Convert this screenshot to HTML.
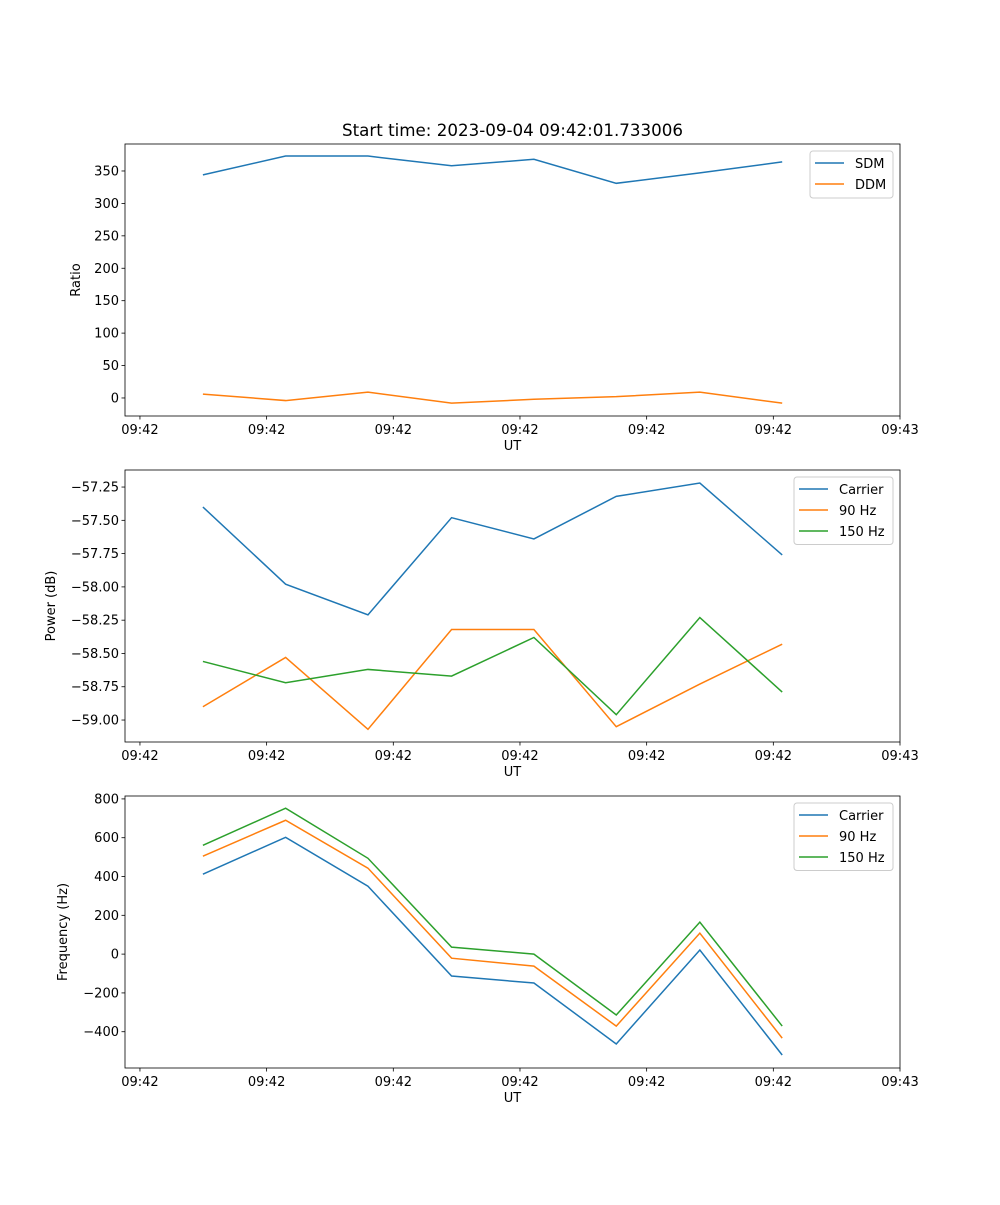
<!DOCTYPE html>
<html><head><meta charset="utf-8"><style>
html,body{margin:0;padding:0;background:#fff}
svg text{font-family:"DejaVu Sans","Liberation Sans",sans-serif;fill:#000}
</style></head><body>
<svg id="fig" width="1000" height="1200" viewBox="0 0 1000 1200" xmlns="http://www.w3.org/2000/svg">
<rect width="1000" height="1200" fill="#fff"/>
<text x="512.5" y="136" font-size="16.7" text-anchor="middle">Start time: 2023-09-04 09:42:01.733006</text>
</svg>
<script>
// times in seconds after 09:42:00
const times = [4.97, 11.5, 18.0, 24.6, 31.1, 37.6, 44.2, 50.7];
const xTickVals = [0, 10, 20, 30, 40, 50, 60];
const xTickLabels = ["09:42","09:42","09:42","09:42","09:42","09:42","09:43"];
const sdm = [344, 373, 373, 358, 368, 331, 347, 364];
const ddm = [6, -4, 9, -8, -2, 2, 9, -8];
const powCarrier = [-57.40, -57.98, -58.21, -57.48, -57.64, -57.32, -57.22, -57.76];
const pow90 = [-58.90, -58.53, -59.07, -58.32, -58.32, -59.05, -58.73, -58.43];
const pow150 = [-58.56, -58.72, -58.62, -58.67, -58.38, -58.96, -58.23, -58.79];
const freqCarrier = [412, 602, 350, -113, -149, -463, 21, -520];
const freq90 = [505, 690, 443, -21, -62, -371, 108, -433];
const freq150 = [561, 752, 494, 36, 0, -314, 165, -371];
const ratioTicks = [0, 50, 100, 150, 200, 250, 300, 350];
const powerTicks = [-59.0, -58.75, -58.5, -58.25, -58.0, -57.75, -57.5, -57.25];
const freqTicks = [-400, -200, 0, 200, 400, 600, 800];

const NS = "http://www.w3.org/2000/svg";
const svg = document.getElementById('fig');
const C = {blue:"#1f77b4", orange:"#ff7f0e", green:"#2ca02c"};
function mk(tag, attrs, parent){const e=document.createElementNS(NS,tag);for(const k in attrs)e.setAttribute(k,attrs[k]);(parent||svg).appendChild(e);return e;}

function panel(cfg){
  const L=125,R=900,T=cfg.top,B=cfg.top+272;
  const g=mk('g',{});
  
  
  const xs=v=>L+(v-(-1.18))/(60.0-(-1.18))*(R-L);
  const ys=v=>B-(v-cfg.ymin)/(cfg.ymax-cfg.ymin)*(B-T);
  cfg.series.forEach(s=>{
    const p=mk('polyline',{points:times.map((t,i)=>xs(t).toFixed(2)+","+ys(s.data[i]).toFixed(2)).join(" "),fill:"none",stroke:s.color,"stroke-width":1.5},g);
    
    
  });
  const f=mk('rect',{x:L,y:T,width:R-L,height:B-T,fill:"none",stroke:"#000","stroke-width":0.8},g);
  
  
  xTickVals.forEach((v,i)=>{
    const x=xs(v);
    mk('line',{x1:x,x2:x,y1:B,y2:B+3.5,stroke:"#000","stroke-width":0.8},g);
    const t=mk('text',{x:x,y:B+18,"font-size":13,"text-anchor":"middle"},g);
    t.textContent=xTickLabels[i];
    
    
  });
  const xl=mk('text',{x:(L+R)/2,y:B+34,"font-size":13,"text-anchor":"middle"},g);
  xl.textContent="UT";
  
  
  cfg.yticks.forEach(v=>{
    const y=ys(v);
    mk('line',{x1:L-3.5,x2:L,y1:y,y2:y,stroke:"#000","stroke-width":0.8},g);
    const t=mk('text',{x:L-6,y:y+4.5,"font-size":13,"text-anchor":"end"},g);
    t.textContent=cfg.fmt(v);
    
    
  });
  const yl=mk('text',{x:0,y:0,"font-size":13,"text-anchor":"middle",transform:`translate(${cfg.ylx},${(T+B)/2}) rotate(-90)`},g);
  yl.textContent=cfg.ylabel;
  
  
  const lx=cfg.legX, ly=T+7, lh=6+cfg.series.length*20.5;
  const lg=mk('g',{},g);
  
  
  mk('rect',{x:lx,y:ly,width:R-7-lx,height:lh,rx:3,fill:"#fff","fill-opacity":0.8,stroke:"#ccc","stroke-width":1},lg);
  cfg.series.forEach((s,i)=>{
    const yy=ly+12+i*21;
    const e=mk('g',{},lg);
    
    
    mk('line',{x1:lx+5,x2:lx+34,y1:yy,y2:yy,stroke:s.color,"stroke-width":1.5},e);
    const t=mk('text',{x:lx+45,y:yy+5,"font-size":13},e);
    t.textContent=s.label;
  });
}

panel({name:'ratio-panel',top:144,ymin:-27.8,ymax:391.6,yticks:ratioTicks,fmt:v=>String(v),ylabel:"Ratio",ylx:80,legX:810,
  series:[{key:'sdm',label:'SDM',color:C.blue,data:sdm},{key:'ddm',label:'DDM',color:C.orange,data:ddm}]});
panel({name:'power-panel',top:470,ymin:-59.165,ymax:-57.122,yticks:powerTicks,fmt:v=>"\u2212"+Math.abs(v).toFixed(2),ylabel:"Power (dB)",ylx:55,legX:794,
  series:[{key:'carrier',label:'Carrier',color:C.blue,data:powCarrier},{key:'90hz',label:'90 Hz',color:C.orange,data:pow90},{key:'150hz',label:'150 Hz',color:C.green,data:pow150}]});
panel({name:'frequency-panel',top:796,ymin:-587,ymax:815,yticks:freqTicks,fmt:v=>v<0?"\u2212"+Math.abs(v):String(v),ylabel:"Frequency (Hz)",ylx:67,legX:794,
  series:[{key:'carrier',label:'Carrier',color:C.blue,data:freqCarrier},{key:'90hz',label:'90 Hz',color:C.orange,data:freq90},{key:'150hz',label:'150 Hz',color:C.green,data:freq150}]});
</script>
</body></html>
